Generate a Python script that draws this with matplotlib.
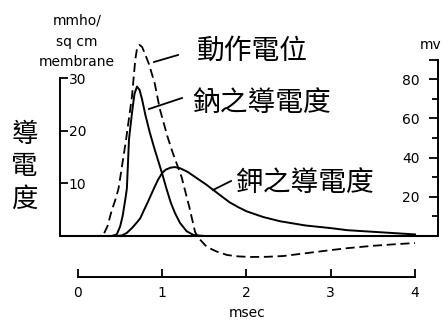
import matplotlib
matplotlib.use("Agg")
import matplotlib.pyplot as plt
from matplotlib.lines import Line2D

W, H = 442, 321
CJK = ["Noto Sans CJK TC", "DejaVu Sans"]

# sodium conductance (mmho / sq cm), time in msec
t_na = [0, 0.40, 0.46, 0.50, 0.53, 0.56, 0.58, 0.595, 0.605, 0.62, 0.64, 0.67, 0.70,
        0.73, 0.76, 0.80, 0.85, 0.90, 0.95, 1.00, 1.05, 1.10, 1.15, 1.21, 1.29, 1.37, 1.50, 4.0]
g_na = [0, 0, 0.3, 1.8, 3.8, 6.8, 9.0, 14.5, 18.3, 20.5, 23.3, 27.0, 28.4,
        27.8, 26.0, 23.0, 19.8, 17.0, 14.4, 11.8, 9.0, 6.4, 4.4, 2.5, 0.9, 0.2, 0, 0]

# potassium conductance
t_k = [0, 0.45, 0.52, 0.58, 0.64, 0.70, 0.74, 0.78, 0.83, 0.90, 0.95, 1.00, 1.04, 1.10,
       1.15, 1.21, 1.30, 1.41, 1.52, 1.61, 1.70, 1.80, 1.90, 2.00, 2.20, 2.40, 2.70,
       3.00, 3.20, 3.50, 3.80, 4.00]
g_k = [0, 0, 0.1, 0.6, 1.5, 2.6, 3.4, 4.8, 6.5, 9.0, 10.7, 12.0, 12.6, 13.0,
       13.1, 12.9, 12.2, 11.0, 9.8, 8.7, 7.6, 6.4, 5.5, 4.7, 3.6, 2.8, 2.0,
       1.5, 1.1, 0.8, 0.5, 0.3]

# action potential (mv)
t_ap = [0, 0.25, 0.30, 0.35, 0.40, 0.44, 0.48, 0.52, 0.57, 0.64, 0.68, 0.70, 0.73, 0.76,
        0.79, 0.84, 0.91, 0.97, 1.06, 1.12, 1.23, 1.32, 1.39, 1.43, 1.53, 1.65, 1.77,
        1.90, 2.05, 2.25, 2.44, 2.70, 3.00, 3.20, 3.50, 3.80, 4.00]
v_ap = [0, 0, 0.5, 5, 13, 18, 24, 35, 49, 71, 90, 95.5, 97.5, 96.5,
        93.5, 88, 78, 65, 51, 43, 30, 15, 2, -1, -5.6, -8, -9.7,
        -10.4, -10.7, -10.6, -10.2, -8.8, -7.2, -6.2, -5.0, -4.1, -3.6]

t_ticks = [0, 1, 2, 3, 4]
g_ticks = [10, 20, 30]
v_ticks = [0, 20, 40, 60, 80, 90]
v_labels = ["", "20", "40", "60", "80", ""]
v_minor = [10, 30, 50, 70]


def fx(px):
    return px / W


def fy(py):
    return 1 - py / H


fig = plt.figure(figsize=(W / 100, H / 100), dpi=100)
ax = fig.add_axes([fx(60), fy(277), (438 - 60) / W, (277 - 30) / H])
ax2 = ax.twinx()

# pixel scales
x0, sx = 78, 84.25
y0, sg, sv = 236, 5.26, 1.96
ax.set_xlim((60 - x0) / sx, (438 - x0) / sx)
ax.set_ylim((y0 - 277) / sg, (y0 - 30) / sg)
ax2.set_ylim((y0 - 277) / sv, (y0 - 30) / sv)

ax.axhline(0, color="black", lw=1.5)
ax.plot(t_na, g_na, color="black", lw=1.4)
ax.plot(t_k, g_k, color="black", lw=1.4)
ax2.plot(t_ap, v_ap, color="black", lw=1.3, dashes=(5, 2.6))

for s in ["top", "right"]:
    ax.spines[s].set_visible(False)
for s in ["top", "left", "bottom"]:
    ax2.spines[s].set_visible(False)
ax.spines["left"].set_bounds(0, 30)
ax.spines["bottom"].set_bounds(0, 4)
ax2.spines["right"].set_bounds(0, 90)
for sp in [ax.spines["left"], ax.spines["bottom"], ax2.spines["right"]]:
    sp.set_linewidth(1.4)

ax.set_xticks(t_ticks)
ax.tick_params(axis="x", direction="in", length=6, width=1.3, pad=6.5, labelsize=10)
ax.set_yticks(g_ticks, [str(v) for v in g_ticks], ha="left")
ax.tick_params(axis="y", direction="in", length=6, width=1.3, pad=-6.3, labelsize=10)

ax2.set_yticks(v_ticks, v_labels, ha="right")
ax2.set_yticks(v_minor, minor=True)
ax2.tick_params(axis="y", which="major", direction="in", length=6.5, width=1.3,
                pad=-13, labelsize=10)
ax2.tick_params(axis="y", which="minor", direction="in", length=4.5, width=1.3)

# curve labels and leader lines
fig.text(fx(197), fy(51), "動作電位", fontsize=20, family=CJK, va="center")
fig.text(fx(192), fy(103), "鈉之導電度", fontsize=20, family=CJK, va="center")
fig.text(fx(236), fy(183), "鉀之導電度", fontsize=20, family=CJK, va="center")
for (xa, ya), (xb, yb) in [((154, 62), (178, 55)), ((149, 109), (182, 98)),
                           ((213, 190), (231, 181))]:
    fig.add_artist(Line2D([fx(xa), fx(xb)], [fy(ya), fy(yb)],
                          transform=fig.transFigure, color="black", lw=1.3))

for ch, py in [("導", 134), ("電", 166.5), ("度", 199)]:
    fig.text(fx(24.5), fy(py), ch, fontsize=19, family=CJK, ha="center", va="center")

for txt, py in [("mmho/", 20), ("sq cm", 42), ("membrane", 62)]:
    fig.text(fx(77), fy(py), txt, fontsize=10, ha="center", va="center")
fig.text(fx(431), fy(45), "mv", fontsize=10, ha="center", va="center")
fig.text(fx(247), fy(313), "msec", fontsize=10, ha="center", va="center")

fig.savefig("out.png", dpi=100)
